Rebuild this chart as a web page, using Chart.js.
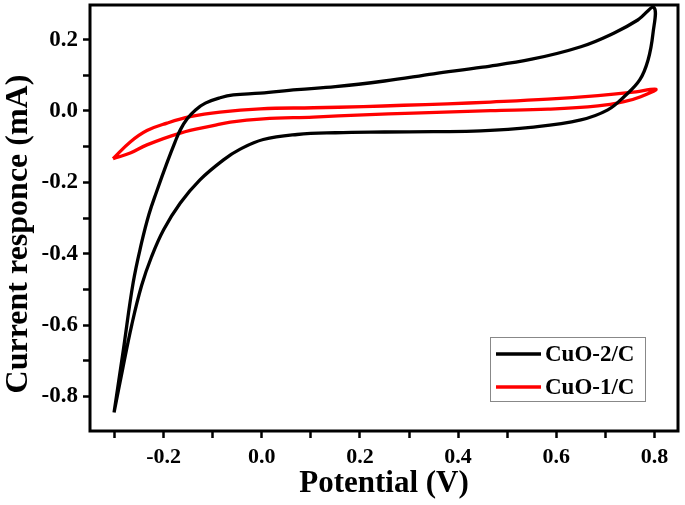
<!DOCTYPE html>
<html>
<head>
<meta charset="utf-8">
<script src="https://cdn.jsdelivr.net/npm/chart.js@4.4.1/dist/chart.umd.min.js"></script>
<style>
html,body{margin:0;padding:0;background:#fff;}
#wrap{width:685px;height:505px;position:relative;}
</style>
</head>
<body>
<div id="wrap"><canvas id="c" width="685" height="505"></canvas></div>
<script>
// ---- data ----
const seriesNames = ['CuO-2/C', 'CuO-1/C'];
const seriesColors = ['#000000', '#ff0000'];

const cuo2V = [-0.301,-0.282,-0.262,-0.245,-0.230,-0.214,-0.193,-0.177,-0.166,-0.152,-0.135,-0.115,-0.085,-0.058,-0.003,0.072,0.150,0.250,0.350,0.450,0.550,0.650,0.717,0.766,0.799,
               0.797,0.787,0.770,0.738,0.705,0.650,0.548,0.446,0.350,0.250,0.150,0.072,0.003,-0.044,-0.078,-0.126,-0.166,-0.200,-0.225,-0.245,-0.265,-0.283,-0.301];
const cuo2I = [-0.845,-0.669,-0.481,-0.370,-0.290,-0.225,-0.145,-0.088,-0.053,-0.022,0.003,0.022,0.037,0.045,0.050,0.060,0.068,0.084,0.104,0.123,0.145,0.180,0.218,0.255,0.290,
               0.217,0.143,0.087,0.040,0.003,-0.025,-0.046,-0.056,-0.058,-0.059,-0.061,-0.066,-0.080,-0.107,-0.137,-0.193,-0.258,-0.333,-0.410,-0.490,-0.600,-0.720,-0.845];

const cuo1V = [-0.303,-0.268,-0.234,-0.193,-0.146,-0.085,-0.003,0.105,0.207,0.289,0.378,0.466,0.583,0.685,0.752,0.803,
               0.772,0.738,0.685,0.583,0.466,0.309,0.207,0.105,0.003,-0.064,-0.099,-0.166,-0.234,-0.268,-0.303];
const cuo1I = [-0.134,-0.087,-0.055,-0.034,-0.016,-0.003,0.006,0.009,0.012,0.016,0.020,0.025,0.033,0.043,0.052,0.061,
               0.040,0.026,0.014,0.005,0.001,-0.006,-0.011,-0.017,-0.022,-0.031,-0.041,-0.062,-0.095,-0.118,-0.134];

const xTickValues = [-0.2, 0.0, 0.2, 0.4, 0.6, 0.8];
const xTickLabels = ['-0.2', '0.0', '0.2', '0.4', '0.6', '0.8'];
const yTickValues = [0.2, 0.0, -0.2, -0.4, -0.6, -0.8];
const yTickLabels = ['0.2', '0.0', '-0.2', '-0.4', '-0.6', '-0.8'];

const xTitle = 'Potential (V)';
const yTitle = 'Current responce (mA)';

// ---- build ----
function toPoints(xs, ys) { return xs.map((x, i) => ({x: x, y: ys[i]})); }
function lookupLabel(vals, labels, v) {
  for (let i = 0; i < vals.length; i++) if (Math.abs(vals[i] - v) < 1e-6) return labels[i];
  return '';
}

const FONT = "'Liberation Serif','Times New Roman',serif";

const framePlugin = {
  id: 'frame',
  afterDraw(chart) {
    const ca = chart.chartArea, ctx = chart.ctx;
    ctx.save();
    ctx.strokeStyle = '#000';
    ctx.lineWidth = 3;
    ctx.strokeRect(ca.left, ca.top, ca.right - ca.left, ca.bottom - ca.top);
    // legend
    const w = 155, h = 64;
    const bx = ca.right - 33 - w, by = ca.bottom - 30 - h;
    ctx.fillStyle = '#fff';
    ctx.fillRect(bx, by, w, h);
    ctx.strokeStyle = '#888';
    ctx.lineWidth = 1;
    ctx.strokeRect(bx + 0.5, by + 0.5, w, h);
    ctx.font = 'bold 23px ' + FONT;
    ctx.textBaseline = 'middle';
    ctx.textAlign = 'left';
    chart.data.datasets.forEach((ds, i) => {
      const yy = by + 17 + i * 33;
      ctx.strokeStyle = ds.borderColor;
      ctx.lineWidth = 3.5;
      ctx.beginPath();
      ctx.moveTo(bx + 6, yy);
      ctx.lineTo(bx + 51, yy);
      ctx.stroke();
      ctx.fillStyle = '#000';
      ctx.fillText(ds.label, bx + 55, yy + 1);
    });
    ctx.restore();
  }
};

const ctx = document.getElementById('c').getContext('2d');
new Chart(ctx, {
  type: 'scatter',
  data: {
    datasets: [
      {label: seriesNames[0], data: toPoints(cuo2V, cuo2I), borderColor: seriesColors[0], backgroundColor: seriesColors[0],
       showLine: true, pointRadius: 0, borderWidth: 3.3, tension: 0.4, fill: false},
      {label: seriesNames[1], data: toPoints(cuo1V, cuo1I), borderColor: seriesColors[1], backgroundColor: seriesColors[1],
       showLine: true, pointRadius: 0, borderWidth: 3.3, tension: 0.4, fill: false}
    ]
  },
  options: {
    responsive: false,
    animation: false,
    layout: {padding: {top: 5, right: 7, left: 0, bottom: 0}},
    plugins: {legend: {display: false}, tooltip: {enabled: false}},
    scales: {
      x: {
        type: 'linear', min: -0.35, max: 0.848,
        border: {display: false},
        grid: {display: true, drawOnChartArea: false, drawTicks: true, tickLength: 7, tickWidth: 2.5, tickColor: '#000'},
        ticks: {stepSize: 0.1, includeBounds: false, autoSkip: false, maxRotation: 0, padding: 6, color: '#000',
                font: {family: FONT, size: 22, weight: 'bold'},
                callback: (v) => lookupLabel(xTickValues, xTickLabels, v)},
        title: {display: true, text: xTitle, color: '#000', font: {family: FONT, size: 31, weight: 'bold'}, padding: {top: 0, bottom: 2}},
        afterFit: (s) => { s.height = 74; s.paddingLeft = 0; s.paddingRight = 0; }
      },
      y: {
        type: 'linear', min: -0.897, max: 0.297,
        border: {display: false},
        grid: {display: true, drawOnChartArea: false, drawTicks: true, tickLength: 7, tickWidth: 2.5, tickColor: '#000'},
        ticks: {stepSize: 0.1, includeBounds: false, autoSkip: false, padding: 5, color: '#000',
                font: {family: FONT, size: 23, weight: 'bold'},
                callback: (v) => lookupLabel(yTickValues, yTickLabels, v)},
        title: {display: true, text: yTitle + '    ', color: '#000', font: {family: FONT, size: 32, weight: 'bold'}, padding: {top: 0, bottom: 0}},
        afterFit: (s) => { s.width = 90; s.paddingTop = 0; s.paddingBottom = 0; }
      }
    }
  },
  plugins: [framePlugin]
});
</script>
</body>
</html>
